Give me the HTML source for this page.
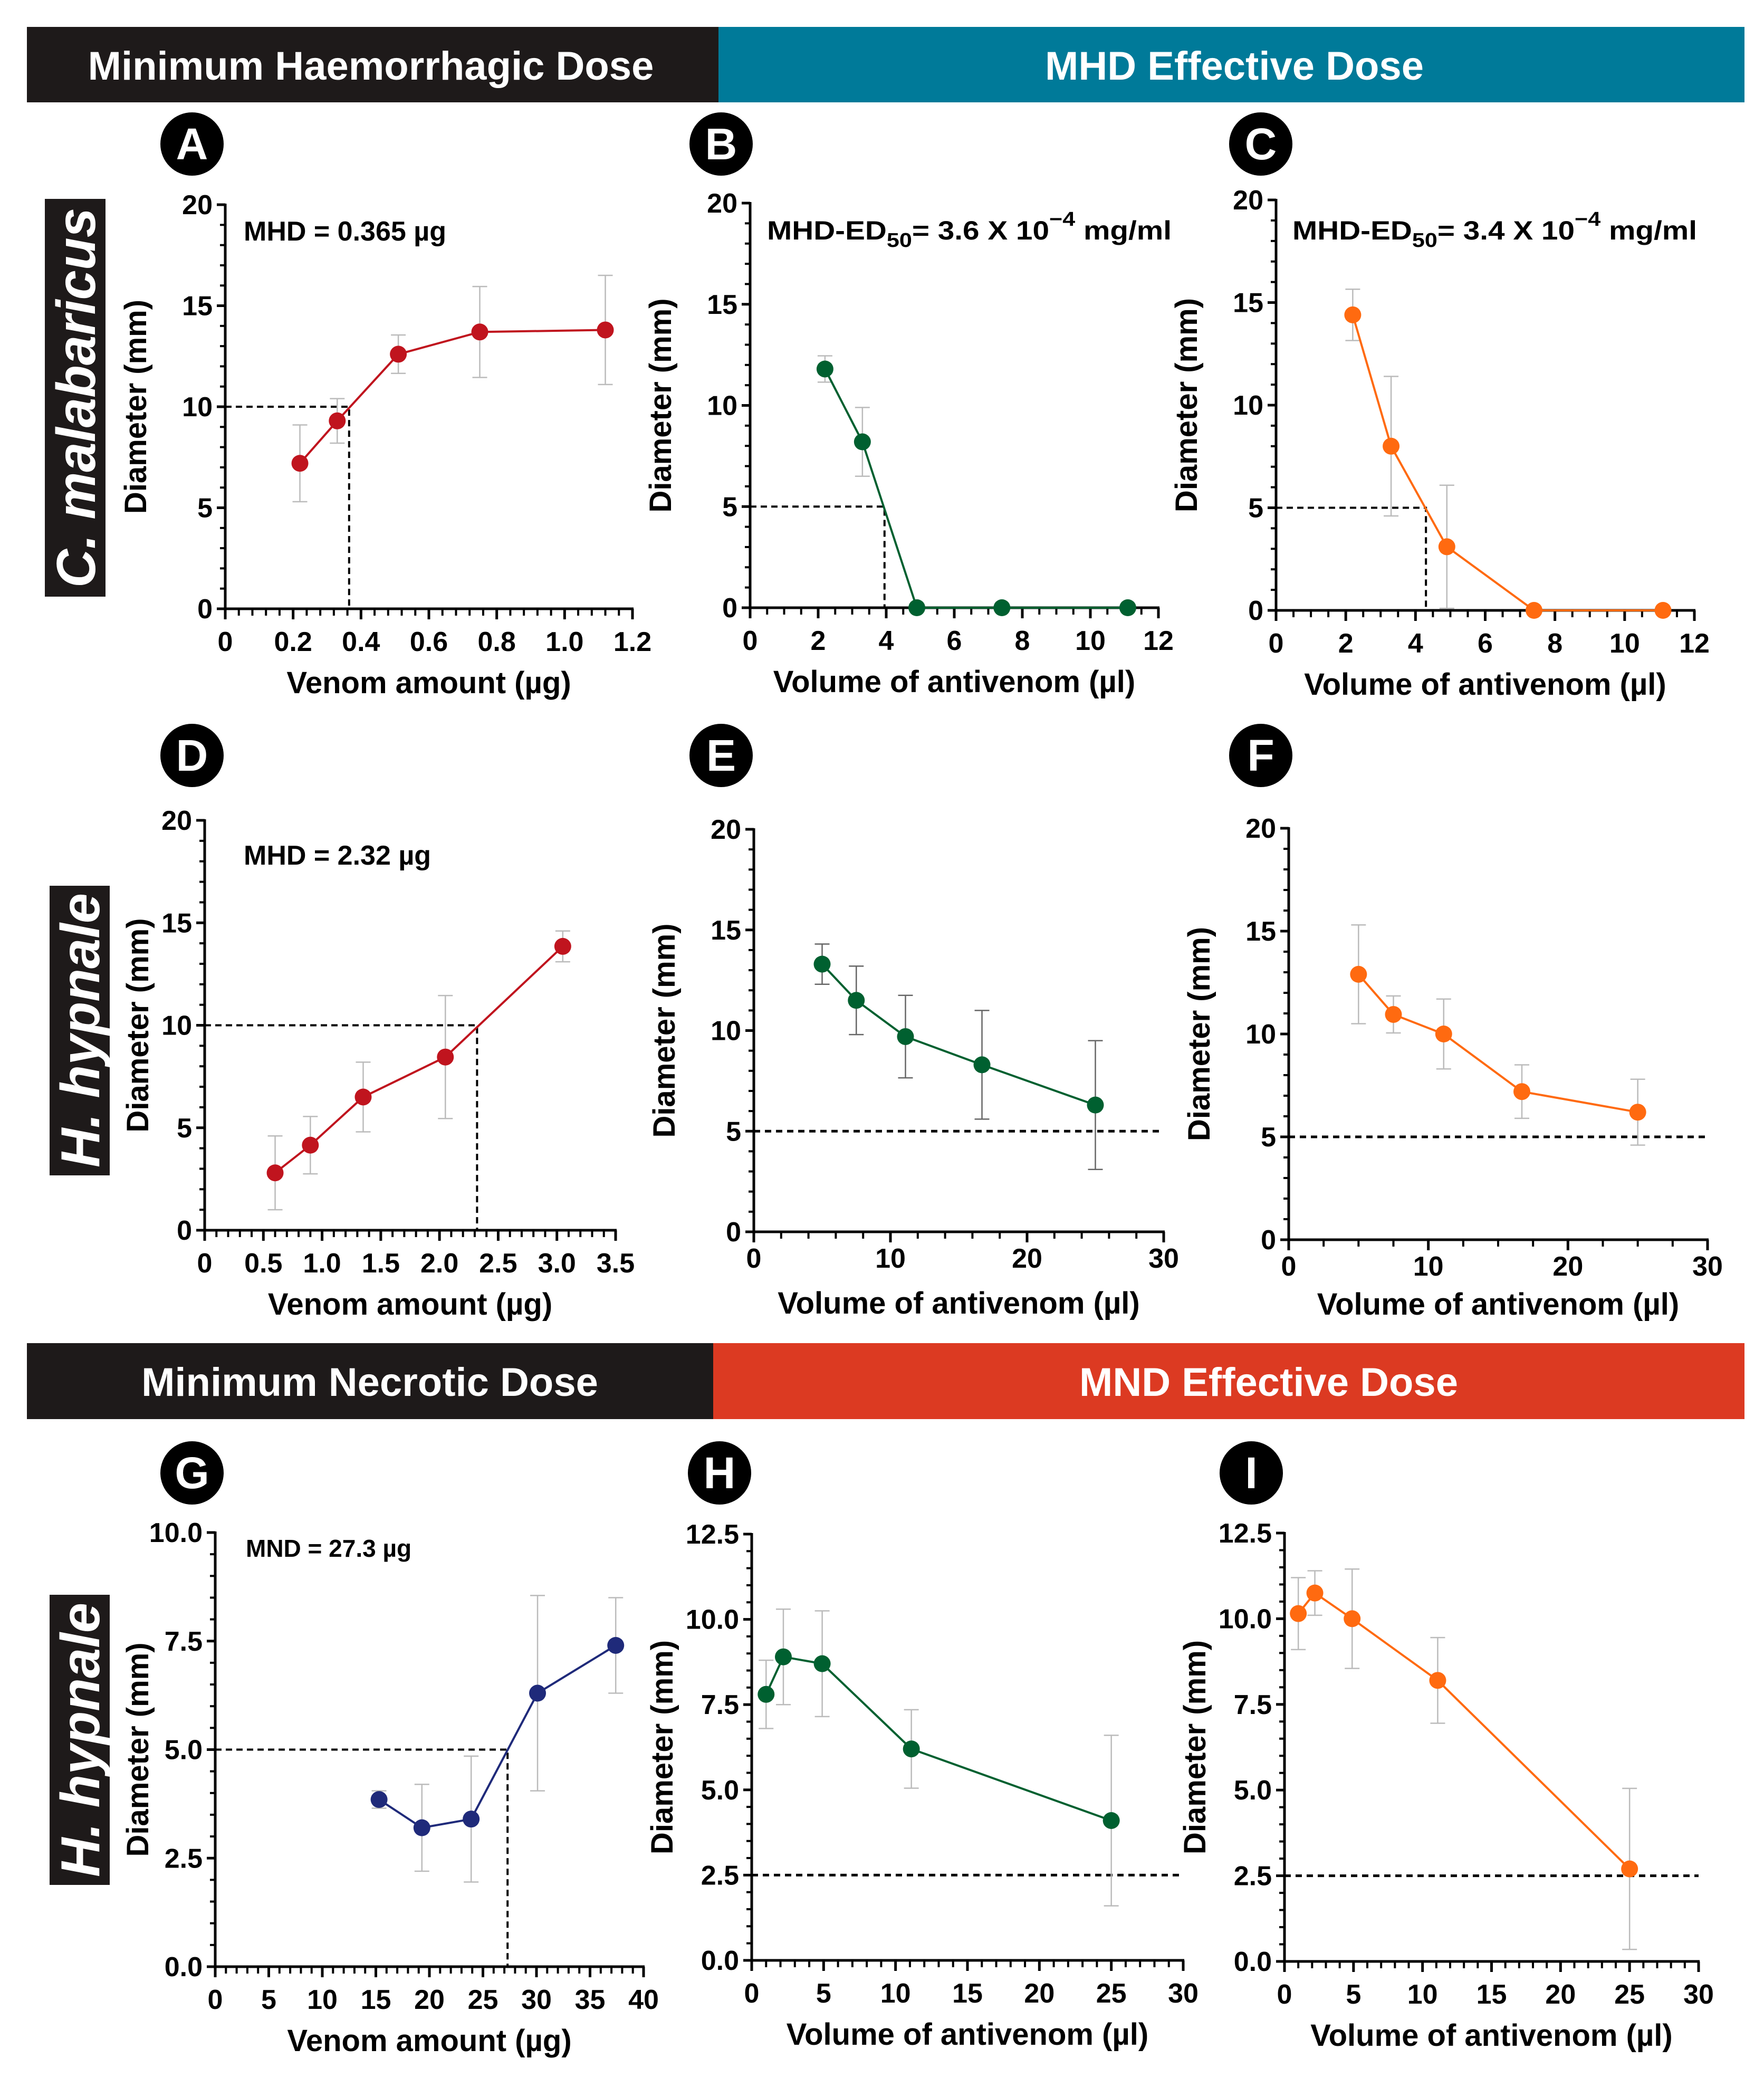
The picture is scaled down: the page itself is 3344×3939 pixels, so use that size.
<!DOCTYPE html>
<html><head><meta charset="utf-8"><style>
html,body{margin:0;padding:0;background:#fff}
svg{display:block;font-family:"Liberation Sans",Arial,sans-serif}
</style></head><body>
<svg id="fig" width="3344" height="3939" viewBox="0 0 3344 3939" xmlns="http://www.w3.org/2000/svg">
<rect x="0" y="0" width="3344" height="3939" fill="#fff"/>
<g>
<rect x="51" y="51" width="1311" height="143" fill="#1e1a1a"/>
<text x="703" y="151" font-size="76" font-weight="bold" fill="#fff" text-anchor="middle">Minimum Haemorrhagic Dose</text>
<rect x="1362" y="51" width="1945" height="143" fill="#007a99"/>
<text x="2340" y="151" font-size="76" font-weight="bold" fill="#fff" text-anchor="middle">MHD Effective Dose</text>
</g>
<g>
<rect x="51" y="2546" width="1301" height="144" fill="#1e1a1a"/>
<text x="701" y="2646" font-size="76" font-weight="bold" fill="#fff" text-anchor="middle">Minimum Necrotic Dose</text>
<rect x="1352" y="2546" width="1955" height="144" fill="#dc3a22"/>
<text x="2405" y="2646" font-size="76" font-weight="bold" fill="#fff" text-anchor="middle">MND Effective Dose</text>
</g>
<g>
<rect x="85" y="377" width="115" height="754" fill="#1e1a1a"/>
<text transform="translate(180,754) rotate(-90)" font-size="104" font-weight="bold" font-style="italic" fill="#fff" text-anchor="middle" textLength="720" lengthAdjust="spacingAndGlyphs">C. malabaricus</text>
</g>
<g>
<rect x="94" y="1679" width="114" height="549" fill="#1e1a1a"/>
<text transform="translate(188,1953) rotate(-90)" font-size="104" font-weight="bold" font-style="italic" fill="#fff" text-anchor="middle" textLength="520" lengthAdjust="spacingAndGlyphs">H. hypnale</text>
</g>
<g>
<rect x="94" y="3023" width="114" height="550" fill="#1e1a1a"/>
<text transform="translate(188,3298) rotate(-90)" font-size="104" font-weight="bold" font-style="italic" fill="#fff" text-anchor="middle" textLength="520" lengthAdjust="spacingAndGlyphs">H. hypnale</text>
</g>
</svg>
<script>
// Panel data (x values, y means, y error half-widths)
const aX=[0.22,0.33,0.51,0.75,1.12];
const aY=[7.2,9.3,12.6,13.7,13.8];
const aE=[1.9,1.1,0.95,2.25,2.7];
const bX=[2.2,3.3,4.9,7.4,11.1];
const bY=[11.8,8.2,0,0,0];
const bE=[0.65,1.7,0,0,0];
const cX=[2.2,3.3,4.9,7.4,11.1];
const cY=[14.4,8.0,3.1,0,0];
const cE=[1.25,3.4,3.0,0,0];
const dX=[0.6,0.9,1.35,2.05,3.05];
const dY=[2.8,4.15,6.5,8.45,13.85];
const dE=[1.8,1.4,1.7,3.0,0.75];
const eX=[5,7.5,11.1,16.7,25];
const eY=[13.3,11.5,9.7,8.3,6.3];
const eE=[1.0,1.7,2.05,2.7,3.2];
const fX=[5,7.5,11.1,16.7,25];
const fY=[12.9,10.95,10.0,7.2,6.2];
const fE=[2.4,0.9,1.7,1.3,1.6];
const gX=[15.3,19.3,23.9,30.1,37.4];
const gY=[3.85,3.2,3.4,6.3,7.4];
const gE=[0.2,1.0,1.45,2.25,1.1];
const hX=[1.0,2.2,4.9,11.1,25];
const hY=[7.8,8.9,8.7,6.2,4.1];
const hE=[1.0,1.4,1.55,1.15,2.5];
const iX=[1.0,2.2,4.9,11.1,25];
const iY=[10.15,10.75,10.0,8.2,2.7];
const iE=[1.05,0.65,1.45,1.25,2.35];
// Tick labels
const xTicksA=["0","0.2","0.4","0.6","0.8","1.0","1.2"];
const xTicksBC=["0","2","4","6","8","10","12"];
const xTicksD=["0","0.5","1.0","1.5","2.0","2.5","3.0","3.5"];
const xTicksEF=["0","10","20","30"];
const xTicksG=["0","5","10","15","20","25","30","35","40"];
const xTicksHI=["0","5","10","15","20","25","30"];
const yTicks20=["0","5","10","15","20"];
const yTicksG=["0.0","2.5","5.0","7.5","10.0"];
const yTicksHI=["0.0","2.5","5.0","7.5","10.0","12.5"];
// Threshold values
const thrA={x:0.365,y:10}, thrB={x:3.95,y:5}, thrC={x:4.3,y:5}, thrD={x:2.32,y:10};
const thrG={x:27.3,y:5};

const NS="http://www.w3.org/2000/svg";
const svg=document.getElementById('fig');
function mk(tag,attrs,parent){const e=document.createElementNS(NS,tag);for(const k in attrs)e.setAttribute(k,attrs[k]);(parent||svg).appendChild(e);return e;}

function panel(p){
  const g=mk('g',{});
  
  
  const xmax=p.xmax, ymax=p.ymax;
  const sx=v=>p.x0+(v/xmax)*(p.x1-p.x0);
  const sy=v=>p.y0-(v/ymax)*(p.y0-p.y1);
  const lc=mk('g',{},g);
  
  
  mk('circle',{cx:p.lx,cy:p.ly,r:60,fill:'#000'},lc);
  const lt=mk('text',{x:p.lx,y:p.ly+29,'font-size':84,'font-weight':'bold',fill:'#fff','text-anchor':'middle'},lc);
  lt.textContent=p.letter;
  if(p.thr){
    const dl=mk('path',{d:`M${p.x0} ${sy(p.thr.y)}H${sx(p.thr.x)}V${p.y0}`,stroke:'#000','stroke-width':4,fill:'none','stroke-dasharray':'12 8'},g);
    
    
  }
  if(p.hthr!==undefined){
    const dl=mk('line',{x1:p.x0,x2:p.x1,y1:sy(p.hthr),y2:sy(p.hthr),stroke:'#000','stroke-width':5,'stroke-dasharray':'12 9'},g);
    
    
  }
  const ax=mk('g',{},g);
  
  
  mk('line',{x1:p.x0,x2:p.x0,y1:p.y1-2,y2:p.y0+2,stroke:'#000','stroke-width':5},ax);
  mk('line',{x1:p.x0-2,x2:p.x1+2,y1:p.y0,y2:p.y0,stroke:'#000','stroke-width':5},ax);
  for(let v=0; v<=ymax+1e-9; v+=p.yminor){
    const maj=Math.abs(v/p.ymajor-Math.round(v/p.ymajor))<1e-6;
    mk('line',{x1:p.x0-(maj?16:10),x2:p.x0,y1:sy(v),y2:sy(v),stroke:'#000','stroke-width':maj?5:4},ax);
  }
  p.yt.forEach((s,i)=>{
    const t=mk('text',{x:p.x0-24,y:sy(i*p.ymajor)+18,'font-size':52,'font-weight':'bold','text-anchor':'end'},ax);
    
    
    t.textContent=s;
  });
  for(let v=0; v<=xmax+1e-9; v+=p.xminor){
    const maj=Math.abs(v/p.xmajor-Math.round(v/p.xmajor))<1e-6;
    mk('line',{x1:sx(v),x2:sx(v),y1:p.y0,y2:p.y0+(maj?20:13),stroke:'#000','stroke-width':maj?5:4},ax);
  }
  p.xt.forEach((s,i)=>{
    const t=mk('text',{x:sx(i*p.xmajor),y:p.y0+(p.xtoff||80),'font-size':52,'font-weight':'bold','text-anchor':'middle'},ax);
    
    
    t.textContent=s;
  });
  const yt=mk('text',{transform:`translate(${p.x0-(p.ytoff||170)+20},${(p.y0+p.y1)/2}) rotate(-90)`,'font-size':58,'font-weight':'bold','text-anchor':'middle'},g);
  
  
  yt.textContent='Diameter (mm)';
  const xt=mk('text',{x:(p.x0+p.x1)/2,y:p.y0+(p.xtitoff||160),'font-size':58,'font-weight':'bold','text-anchor':'middle'},g);
  
  
  xt.textContent=p.xtitle;
  if(p.ann){
    const at=mk('text',{x:p.ann.x,y:p.ann.y,'font-size':p.ann.fs||52,'font-weight':'bold'},g);
    
    
    if(p.ann.ed){
      at.setAttribute('font-size',50);
      at.setAttribute('textLength',767);
      at.setAttribute('lengthAdjust','spacingAndGlyphs');
      const s1=mk('tspan',{},at);s1.textContent='MHD-ED';
      const s2=mk('tspan',{dy:14,'font-size':38},at);s2.textContent='50';
      const s3=mk('tspan',{dy:-14},at);s3.textContent='= '+p.ann.v+' X 10';
      const s4=mk('tspan',{dy:-26,'font-size':38},at);s4.textContent='−4';
      const s5=mk('tspan',{dy:26},at);s5.textContent=' mg/ml';
    } else at.textContent=p.ann.t;
  }
  p.X.forEach((xv,i)=>{
    if(p.E[i]<=0) return;
    const eb=mk('path',{d:`M${sx(xv)} ${sy(p.Y[i]-p.E[i])}V${sy(p.Y[i]+p.E[i])}M${sx(xv)-14} ${sy(p.Y[i]-p.E[i])}h28M${sx(xv)-14} ${sy(p.Y[i]+p.E[i])}h28`,stroke:p.ec||'#bbb','stroke-width':2.5,fill:'none'},g);
    
    
  });
  const ln=mk('polyline',{points:p.X.map((xv,i)=>sx(xv)+','+sy(p.Y[i])).join(' '),stroke:p.color,'stroke-width':4,fill:'none'},g);
  
  
  p.X.forEach((xv,i)=>{
    const c=mk('circle',{cx:sx(xv),cy:sy(p.Y[i]),r:16,fill:p.color},g);
    
    
  });
}
const VA='Venom amount (µg)', VAV='Volume of antivenom (µl)';
panel({id:'a',letter:'A',lx:364,ly:273,x0:427,x1:1199,y0:1154,y1:388,xmax:1.2,ymax:20,xmajor:0.2,xminor:0.04,ymajor:5,yminor:1,xt:xTicksA,yt:yTicks20,X:aX,Y:aY,E:aE,color:'#c0141e',thr:thrA,xtitle:VA,ann:{x:462,y:456,t:'MHD = 0.365 µg'}});
panel({id:'b',letter:'B',lx:1367,ly:273,x0:1422,x1:2196,y0:1152,y1:385,xmax:12,ymax:20,xmajor:2,xminor:0.5,ymajor:5,yminor:1,xt:xTicksBC,yt:yTicks20,X:bX,Y:bY,E:bE,color:'#006030',thr:thrB,xtitle:VAV,ann:{x:1454,y:454,ed:true,v:'3.6'}});
panel({id:'c',letter:'C',lx:2390,ly:273,x0:2419,x1:3212,y0:1157,y1:379,xmax:12,ymax:20,xmajor:2,xminor:0.5,ymajor:5,yminor:1,xt:xTicksBC,yt:yTicks20,X:cX,Y:cY,E:cE,color:'#ff6a10',thr:thrC,xtitle:VAV,ann:{x:2450,y:454,ed:true,v:'3.4'}});
panel({id:'d',letter:'D',lx:364,ly:1432,x0:388,x1:1167,y0:2332,y1:1555,xmax:3.5,ymax:20,xmajor:0.5,xminor:0.1,ymajor:5,yminor:1,xt:xTicksD,yt:yTicks20,X:dX,Y:dY,E:dE,color:'#c0141e',thr:thrD,ytoff:127,xtitle:VA,ann:{x:462,y:1639,t:'MHD = 2.32 µg'}});
panel({id:'e',letter:'E',lx:1367,ly:1432,x0:1429,x1:2206,y0:2335,y1:1572,xmax:30,ymax:20,xmajor:10,xminor:2,ymajor:5,yminor:1,xt:xTicksEF,yt:yTicks20,X:eX,Y:eY,E:eE,color:'#006030',ec:'#666',hthr:5,xtoff:68,xtitoff:155,xtitle:VAV});
panel({id:'f',letter:'F',lx:2390,ly:1432,x0:2443,x1:3237,y0:2350,y1:1570,xmax:30,ymax:20,xmajor:10,xminor:2.5,ymajor:5,yminor:1,xt:xTicksEF,yt:yTicks20,X:fX,Y:fY,E:fE,color:'#ff6a10',hthr:5,xtoff:68,xtitoff:142,xtitle:VAV});
panel({id:'g',letter:'G',lx:364,ly:2792,x0:408,x1:1220,y0:3728,y1:2905,xmax:40,ymax:10,xmajor:5,xminor:1,ymajor:2.5,yminor:0.5,xt:xTicksG,yt:yTicksG,X:gX,Y:gY,E:gE,color:'#1f2a7a',thr:thrG,ytoff:147,xtitle:VA,ann:{x:466,y:2951,t:'MND = 27.3 µg',fs:46}});
panel({id:'h',letter:'H',lx:1364,ly:2792,x0:1425,x1:2243,y0:3716,y1:2908,xmax:30,ymax:12.5,xmajor:5,xminor:1,ymajor:2.5,yminor:0.5,xt:xTicksHI,yt:yTicksHI,X:hX,Y:hY,E:hE,color:'#006030',hthr:2.5,xtitle:VAV});
panel({id:'i',letter:'I',lx:2372,ly:2792,x0:2435,x1:3220,y0:3718,y1:2906,xmax:30,ymax:12.5,xmajor:5,xminor:1,ymajor:2.5,yminor:0.5,xt:xTicksHI,yt:yTicksHI,X:iX,Y:iY,E:iE,color:'#ff6a10',hthr:2.5,xtitle:VAV});
</script>
</body></html>
